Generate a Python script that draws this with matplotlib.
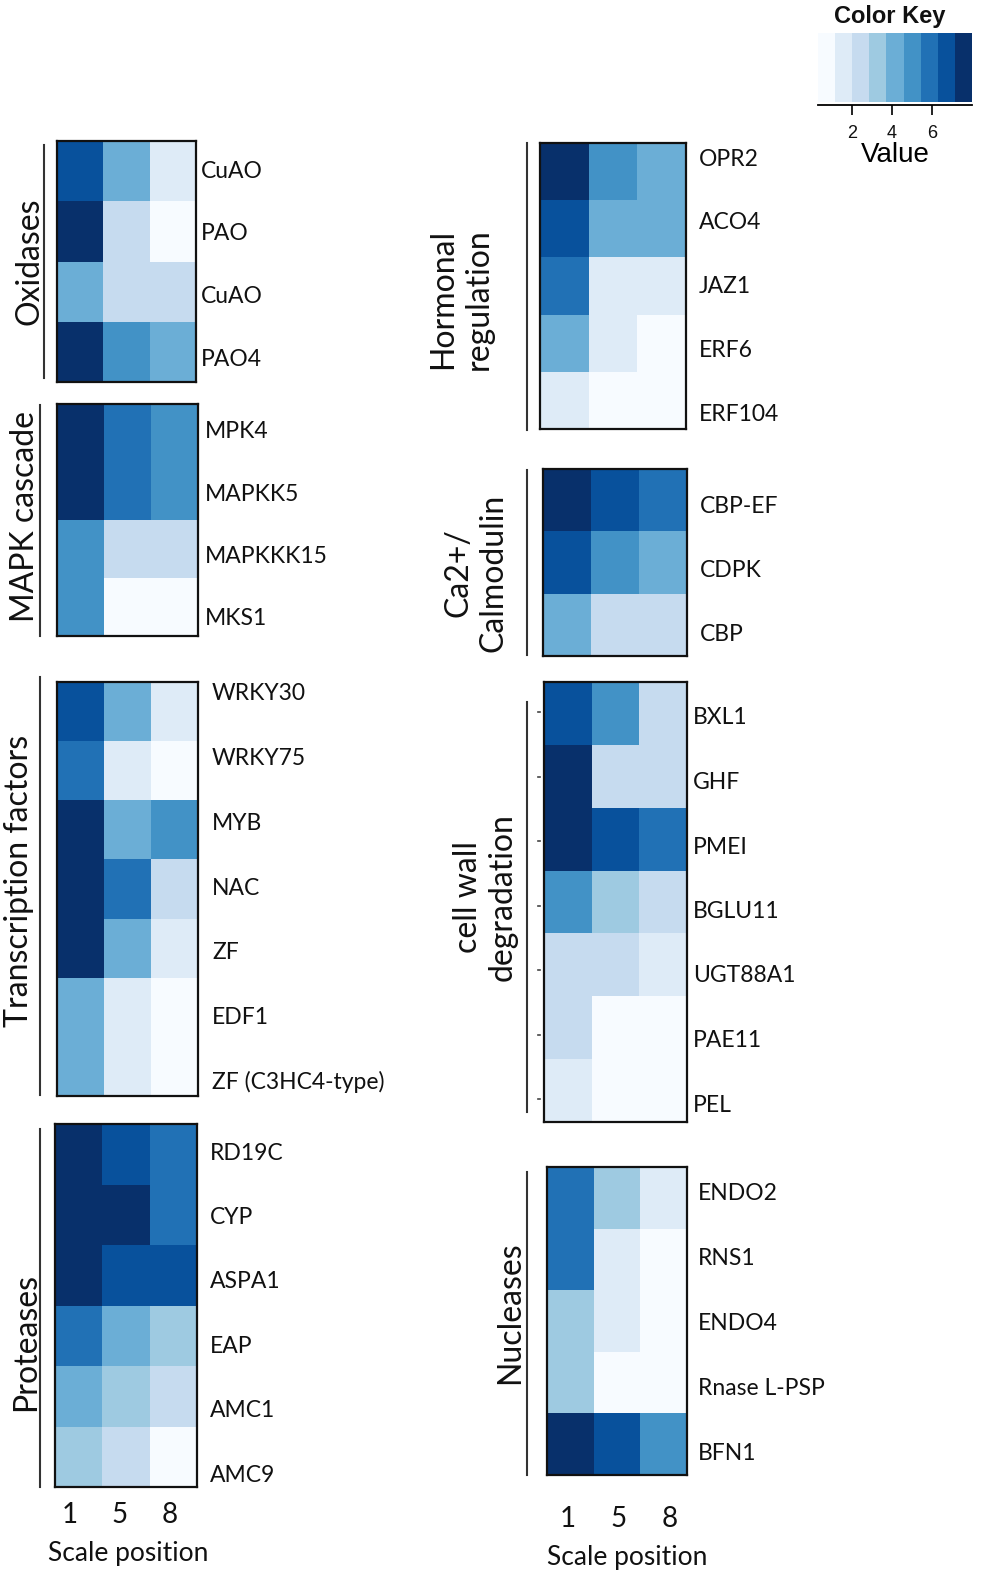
import numpy as np
import matplotlib
matplotlib.use("Agg")
import matplotlib.pyplot as plt
from matplotlib.colors import ListedColormap, BoundaryNorm
from matplotlib.lines import Line2D

# ---------------- data ----------------
positions = ["1", "5", "8"]

oxidase_genes = ["CuAO", "PAO", "CuAO", "PAO4"]
oxidase_vals = [[6.7, 4.1, 1.6],
                [7.6, 2.4, 0.7],
                [4.1, 2.4, 2.4],
                [7.6, 5.0, 4.1]]

mapk_genes = ["MPK4", "MAPKK5", "MAPKKK15", "MKS1"]
mapk_vals = [[7.6, 5.9, 5.0],
             [7.6, 5.9, 5.0],
             [5.0, 2.4, 2.4],
             [5.0, 0.7, 0.7]]

tf_genes = ["WRKY30", "WRKY75", "MYB", "NAC", "ZF", "EDF1", "ZF (C3HC4-type)"]
tf_vals = [[6.7, 4.1, 1.6],
           [5.9, 1.6, 0.7],
           [7.6, 4.1, 5.0],
           [7.6, 5.9, 2.4],
           [7.6, 4.1, 1.6],
           [4.1, 1.6, 0.7],
           [4.1, 1.6, 0.7]]

protease_genes = ["RD19C", "CYP", "ASPA1", "EAP", "AMC1", "AMC9"]
protease_vals = [[7.6, 6.7, 5.9],
                 [7.6, 7.6, 5.9],
                 [7.6, 6.7, 6.7],
                 [5.9, 4.1, 3.3],
                 [4.1, 3.3, 2.4],
                 [3.3, 2.4, 0.7]]

hormone_genes = ["OPR2", "ACO4", "JAZ1", "ERF6", "ERF104"]
hormone_vals = [[7.6, 5.0, 4.1],
                [6.7, 4.1, 4.1],
                [5.9, 1.6, 1.6],
                [4.1, 1.6, 0.7],
                [1.6, 0.7, 0.7]]

calcium_genes = ["CBP-EF", "CDPK", "CBP"]
calcium_vals = [[7.6, 6.7, 5.9],
                [6.7, 5.0, 4.1],
                [4.1, 2.4, 2.4]]

cellwall_genes = ["BXL1", "GHF", "PMEI", "BGLU11", "UGT88A1", "PAE11", "PEL"]
cellwall_vals = [[6.7, 5.0, 2.4],
                 [7.6, 2.4, 2.4],
                 [7.6, 6.7, 5.9],
                 [5.0, 3.3, 2.4],
                 [2.4, 2.4, 1.6],
                 [2.4, 0.7, 0.7],
                 [1.6, 0.7, 0.7]]

nuclease_genes = ["ENDO2", "RNS1", "ENDO4", "Rnase L-PSP", "BFN1"]
nuclease_vals = [[5.9, 3.3, 1.6],
                 [5.9, 1.6, 0.7],
                 [3.3, 1.6, 0.7],
                 [3.3, 0.7, 0.7],
                 [7.6, 6.7, 5.0]]

key_ticks = [2, 4, 6]
key_min, key_max = 0.3, 8.0

# ---------------- style ----------------
blues9 = ["#F7FBFF", "#DEEBF7", "#C6DBEF", "#9ECAE1", "#6BAED6",
          "#4292C6", "#2171B5", "#08519C", "#08306B"]
cmap = ListedColormap(blues9)
edges = np.linspace(key_min, key_max, len(blues9) + 1)
norm = BoundaryNorm(edges, cmap.N)

W, H = 1000, 1578
fig = plt.figure(figsize=(W / 100, H / 100), dpi=100)
fig.patch.set_facecolor("white")

LABEL_FONT = ["Lato", "DejaVu Sans"]


def px_axes(x0, y0, x1, y1):
    return fig.add_axes([x0 / W, 1 - y1 / H, (x1 - x0) / W, (y1 - y0) / H])


def heatmap(box, genes, vals, label_x, label_first, label_step,
            xtick_px=None, tick_pad=16, dots=False):
    x0, y0, x1, y1 = box
    ax = px_axes(x0, y0, x1, y1)
    v = np.array(vals)
    n = v.shape[0]
    ax.pcolormesh(np.arange(4), np.arange(n + 1), v, cmap=cmap, norm=norm)
    ax.set_xlim(0, 3)
    ax.set_ylim(n, 0)
    for s in ax.spines.values():
        s.set_linewidth(1.6)
        s.set_color("#111111")
    # gene labels (the source figure places them on their own spacing)
    lab_px = label_first + label_step * np.arange(n)
    lab_data = (lab_px - y0) / (y1 - y0) * n
    ax.yaxis.tick_right()
    ax.set_yticks(lab_data)
    ax.set_yticklabels(genes, family=LABEL_FONT, fontsize=16.5, color="#111111")
    ax.tick_params(axis="y", length=0, pad=(label_x - x1) * 0.72)
    if xtick_px is not None:
        ax.set_xticks((np.array(xtick_px) - x0) / (x1 - x0) * 3)
        ax.set_xticklabels(positions, family=LABEL_FONT, fontsize=20, color="#111111")
        ax.tick_params(axis="x", length=0, pad=tick_pad)
    else:
        ax.set_xticks([])
    if dots:
        for py in lab_px:
            fig.add_artist(Line2D([(x0 - 6) / W, (x0 - 4) / W],
                                  [1 - (py - 4) / H] * 2,
                                  color="#444444", lw=1.2))
    return ax


def group_line(x, ya, yb):
    fig.add_artist(Line2D([x / W, x / W], [1 - ya / H, 1 - yb / H],
                          color="#333333", lw=1.5))


def group_label(x, y, text, size=23):
    fig.text(x / W, 1 - y / H, text, rotation=90, ha="center", va="center",
             multialignment="center", family=LABEL_FONT, fontsize=size,
             color="#111111", linespacing=1.2)


# ---------------- left column ----------------
heatmap((57, 141, 196, 382), oxidase_genes, oxidase_vals, 201, 169, 62.7)
group_line(44, 145, 378)
group_label(29, 261, "Oxidases")

heatmap((57, 404, 198, 636), mapk_genes, mapk_vals, 205, 430, 62.3)
group_line(40, 405, 636)
group_label(25, 517, "MAPK cascade")

heatmap((57, 682, 198, 1096), tf_genes, tf_vals, 212, 692, 64.7)
group_line(40, 677, 1095)
group_label(19, 881, "Transcription factors")

heatmap((55, 1124, 197, 1487), protease_genes, protease_vals, 210, 1151, 64.4,
        xtick_px=[70, 120, 170], tick_pad=11)
group_line(40, 1129, 1487)
group_label(26, 1342, "Proteases")
fig.text(128 / W, 1 - 1553 / H, "Scale position", ha="center", va="center",
         family=LABEL_FONT, fontsize=19, color="#111111")

# ---------------- right column ----------------
heatmap((540, 143, 686, 429), hormone_genes, hormone_vals, 699, 157, 63.8)
group_line(527, 143, 430)
group_label(461, 299, "Hormonal\nregulation")

heatmap((543, 469, 687, 656), calcium_genes, calcium_vals, 700, 505, 64.0)
group_line(527, 470, 655)
group_label(476, 573, "Ca2+/\nCalmodulin")

heatmap((544, 682, 687, 1122), cellwall_genes, cellwall_vals, 693, 716, 64.5, dots=True)
group_line(527, 702, 1112)
group_label(485, 897, "cell wall\ndegradation")

heatmap((547, 1167, 687, 1475), nuclease_genes, nuclease_vals, 698, 1192, 64.8,
        xtick_px=[568, 619, 670], tick_pad=22)
group_line(527, 1172, 1475)
group_label(510, 1313, "Nucleases")
fig.text(627 / W, 1 - 1558 / H, "Scale position", ha="center", va="center",
         family=LABEL_FONT, fontsize=19, color="#111111")

# ---------------- colour key ----------------
kax = px_axes(818, 33, 972, 102)
centers = (edges[:-1] + edges[1:]) / 2
kax.pcolormesh(edges, [0, 1], centers[np.newaxis, :], cmap=cmap, norm=norm)
kax.set_xlim(key_min, key_max)
kax.set_ylim(0, 1)
kax.set_yticks([])
for side in ["top", "left", "right"]:
    kax.spines[side].set_visible(False)
kax.spines["bottom"].set_position(("outward", 2.5))
kax.spines["bottom"].set_linewidth(1.3)
kax.set_xticks(key_ticks)
kax.set_xticklabels([str(t) for t in key_ticks], family="Liberation Sans", fontsize=13)
kax.tick_params(axis="x", length=7, width=1.3, pad=7, colors="#111111")
kax.set_xlabel("Value", family="Liberation Sans", fontsize=20, labelpad=0)
fig.text(890 / W, 1 - 16 / H, "Color Key", ha="center", va="center",
         family="Liberation Sans", fontsize=17, fontweight="bold", color="#111111")

fig.savefig("out.png", dpi=100, facecolor="white")
